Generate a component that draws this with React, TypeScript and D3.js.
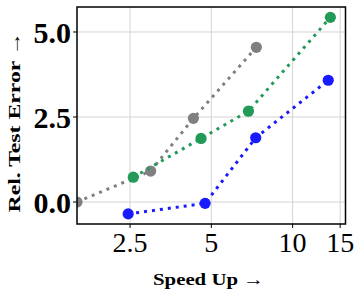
import React from 'react';
import * as d3 from 'd3';

// speed up (x) and relative test error (y) for each method
const grayX = [1.59, 2.98, 4.29, 7.34];
const grayY = [0.0, 0.91, 2.46, 4.55];
const greenX = [2.57, 4.58, 6.86, 13.8];
const greenY = [0.73, 1.87, 2.67, 5.43];
const blueX = [2.46, 4.74, 7.3, 13.55];
const blueY = [-0.35, -0.04, 1.89, 3.58];

const xTicks = [2.5, 5, 10, 15];
const xTickLabels = ['2.5', '5', '10', '15'];
const yTicks = [0, 2.5, 5];
const yTickLabels = ['0.0', '2.5', '5.0'];

const W = 360;
const H = 296;
const m = { left: 77, right: 14.5, top: 7, bottom: 72 };
const font = '"Liberation Serif", "Times New Roman", serif';

const App = () => {
    const x = d3.scaleLog()
        .domain([1.59, 15.7])
        .range([m.left, W - m.right]);
    const y = d3.scaleLinear()
        .domain([-0.647, 5.735])
        .range([H - m.bottom, m.top]);

    const line = d3.line<[number, number]>()
        .x((d) => x(d[0]))
        .y((d) => y(d[1]));

    const series = [
        { xs: grayX, ys: grayY, color: '#808080' },
        { xs: greenX, ys: greenY, color: '#229a58' },
        { xs: blueX, ys: blueY, color: '#1a1aff' },
    ];

    const plotW = W - m.left - m.right;
    const plotH = H - m.top - m.bottom;

    return (
        <svg width={W} height={H} style={{ position: 'absolute', left: 0, top: 0 }}>
            <rect width={W} height={H} fill="#fff" />
            <defs>
                <clipPath id="plot">
                    <rect x={m.left} y={m.top} width={plotW} height={plotH} />
                </clipPath>
            </defs>
            {xTicks.map((t) => (
                <line key={'gx' + t} x1={x(t)} x2={x(t)} y1={m.top} y2={m.top + plotH}
                    stroke="#d4d4d4" strokeWidth={1} />
            ))}
            {yTicks.map((t) => (
                <line key={'gy' + t} x1={m.left} x2={m.left + plotW} y1={y(t)} y2={y(t)}
                    stroke="#d4d4d4" strokeWidth={1} />
            ))}
            <g clipPath="url(#plot)">
                {series.map((s, i) => {
                    const pts = s.xs.map((v, j) => [v, s.ys[j]] as [number, number]);
                    return (
                        <g key={i}>
                            <path d={line(pts) || ''} fill="none" stroke={s.color}
                                strokeWidth={3} strokeDasharray="3 5" />
                            {pts.map((p, j) => (
                                <circle key={j} cx={x(p[0])} cy={y(p[1])} r={5.6} fill={s.color} />
                            ))}
                        </g>
                    );
                })}
            </g>
            <rect x={m.left} y={m.top} width={plotW} height={plotH} fill="none"
                stroke="#000" strokeWidth={1.5} />
            {xTicks.map((t, i) => (
                <g key={'tx' + t}>
                    <line x1={x(t)} x2={x(t)} y1={m.top + plotH} y2={m.top + plotH + 4}
                        stroke="#000" strokeWidth={1} />
                    <text x={x(t)} y={252} textAnchor="middle" fontFamily={font}
                        fontSize={28}>{xTickLabels[i]}</text>
                </g>
            ))}
            {yTicks.map((t, i) => (
                <g key={'ty' + t}>
                    <line x1={m.left - 4} x2={m.left} y1={y(t)} y2={y(t)}
                        stroke="#000" strokeWidth={1} />
                    <text x={71} y={y(t) + 11} textAnchor="end" fontFamily={font}
                        fontSize={30} fontWeight="bold">{yTickLabels[i]}</text>
                </g>
            ))}
            <text x={208.5} y={285} textAnchor="middle" fontFamily={font} fontSize={17}
                fontWeight="bold" textLength={111} lengthAdjust="spacingAndGlyphs">Speed Up →</text>
            <text transform="translate(20, 122) rotate(-90)"
                textAnchor="middle" fontFamily={font} fontSize={17}
                fontWeight="bold" textLength={181} lengthAdjust="spacingAndGlyphs">Rel. Test Error →</text>
        </svg>
    );
};

export default App;
